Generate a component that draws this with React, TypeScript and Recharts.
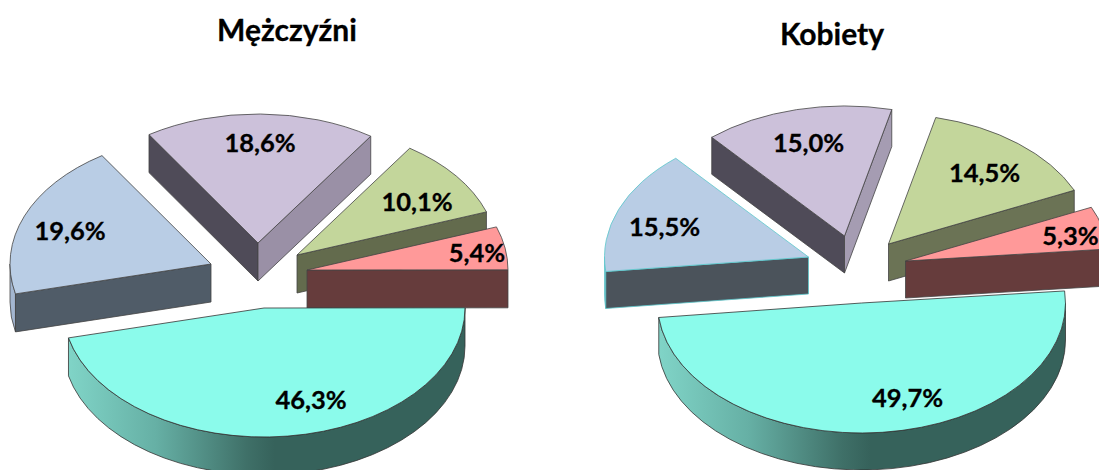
import React from 'react';
import { PieChart, Pie, Cell } from 'recharts';

// Values, clockwise from the blue slice (paint order: back to front)
const categories = ['blue', 'purple', 'green', 'pink', 'turquoise'];
const menValues = [19.6, 18.6, 10.1, 5.4, 46.3];
const womenValues = [15.5, 15.0, 14.5, 5.3, 49.7];
const titles = ['Mężczyźni', 'Kobiety'];

const toRows = (values: number[]) => categories.map((name, i) => ({ name, value: values[i] }));
const menData = toRows(menValues);
const womenData = toRows(womenValues);

// Styling tables
const topColors = ['#b9cde5', '#ccc1da', '#c3d69b', '#ff9999', '#8bfbeb'];
const startWall = ['#505c68', '#4f4b58', '#636b4d', '#663c3c', '#36625b'];
const endWall = ['#505c68', '#9a90a6', '#636b4d', '#663c3c', '#36625b'];
const arcWall = ['#a3b6d0', '#9a90a6', '#636b4d', '#663c3c', 'url(#GRAD)'];

const FONT = 'Lato, Carlito, "Open Sans", sans-serif';
const D2R = Math.PI / 180;

type Geo = {
  id: string;
  ry: number;
  depth: number;
  explode: [number, number][];
  labelAt: [number, number][];
  stroke: string[];
  endWallOverride?: string[];
  startWallOverride?: string[];
};

const menGeo: Geo = {
  id: 'm',
  ry: 129,
  depth: 38,
  explode: [[-53, -44], [-6, -65], [33, -53], [43, -38], [0, 0]],
  labelAt: [[-141, -34], [2, -101], [120, -54], [170, -18], [47, 91]],
  stroke: ['#444', '#444', '#444', '#444', '#333'],
};
const womenGeo: Geo = {
  id: 'w',
  ry: 130,
  depth: 37,
  explode: [[-53, -46], [-17, -67], [27, -59], [44, -42], [0, 0]],
  labelAt: [[-144, -31], [-36, -94], [96, -72], [165, -26], [46, 94]],
  stroke: ['#5cc8cc', '#444', '#444', '#444', '#333'],
  startWallOverride: ['#4b535b', '#4f4b58', '#6b7355', '#663c3c', '#36625b'],
  endWallOverride: ['#4b535b', '#a59cb2', '#6b7355', '#663c3c', '#36625b'],
};

const makeShape = (geo: Geo) => (props: any) => {
  const { cx, cy, outerRadius, startAngle, endAngle, index } = props;
  const idx: number = index ?? categories.indexOf(props.name);
  const rx = outerRadius;
  const ry = geo.ry;
  const d = geo.depth;
  const ax = cx + geo.explode[idx][0];
  const ay = cy + geo.explode[idx][1];
  let t1 = -startAngle;
  let t2 = -endAngle;
  while (t1 < -180) { t1 += 360; t2 += 360; }
  const P = (t: number, dy = 0) => [ax + rx * Math.cos(t * D2R), ay + ry * Math.sin(t * D2R) + dy];
  const p1 = P(t1);
  const p2 = P(t2);
  const large = t2 - t1 > 180 ? 1 : 0;
  const top = `M${ax},${ay}L${p1[0]},${p1[1]}A${rx},${ry} 0 ${large} 1 ${p2[0]},${p2[1]}Z`;
  const a = Math.max(t1, 0);
  const b = Math.min(t2, 180);
  const stroke = geo.stroke[idx];
  const sw = geo.startWallOverride ?? startWall;
  const ew = geo.endWallOverride ?? endWall;
  const gradId = `grad-${geo.id}-${idx}`;
  const arcFill = arcWall[idx].replace('GRAD', gradId);
  const wall = (p: number[], fill: string) => (
    <path
      d={`M${ax},${ay}L${p[0]},${p[1]}L${p[0]},${p[1] + d}L${ax},${ay + d}Z`}
      fill={fill}
      stroke={stroke}
      strokeWidth={0.8}
    />
  );
  let arcPath = null;
  if (b > a) {
    const A = P(a);
    const B = P(b);
    arcPath = (
      <path
        d={`M${A[0]},${A[1]}A${rx},${ry} 0 0 1 ${B[0]},${B[1]}L${B[0]},${B[1] + d}A${rx},${ry} 0 0 0 ${A[0]},${A[1] + d}Z`}
        fill={arcFill}
        stroke={stroke}
        strokeWidth={0.8}
      />
    );
  }
  return (
    <g>
      <defs>
        <linearGradient id={gradId} x1="0" y1="0" x2="1" y2="0">
          <stop offset="0" stopColor="#80d4c7" />
          <stop offset="0.22" stopColor="#66b0a5" />
          <stop offset="0.45" stopColor="#3f7068" />
          <stop offset="0.52" stopColor="#36625b" />
          <stop offset="1" stopColor="#36625b" />
        </linearGradient>
      </defs>
      {arcPath}
      {Math.cos(t1 * D2R) < 0 && wall(p1, sw[idx])}
      {Math.cos(t2 * D2R) > 0 && wall(p2, ew[idx])}
      <path d={top} fill={topColors[idx]} stroke={stroke} strokeWidth={0.8} strokeLinejoin="round" />
    </g>
  );
};

const makeLabel = (geo: Geo) => (props: any) => {
  const { cx, cy, index, value } = props;
  const x = cx + geo.explode[index][0] + geo.labelAt[index][0];
  const y = cy + geo.explode[index][1] + geo.labelAt[index][1];
  return (
    <text
      x={x}
      y={y}
      textAnchor="middle"
      dominantBaseline="central"
      fontFamily={FONT}
      fontWeight={700}
      fontSize={25.5}
      fill="#000"
      stroke="#000"
      strokeWidth={0.3}
    >
      {`${value.toFixed(1).replace('.', ',')}%`}
    </text>
  );
};

const menShape = makeShape(menGeo);
const womenShape = makeShape(womenGeo);

export default function App() {
  return (
    <div style={{ position: 'absolute', left: 0, top: 0, width: 1099, height: 470, overflow: 'hidden', background: '#fff' }}>
      <PieChart width={1099} height={470} margin={{ top: 0, right: 0, bottom: 0, left: 0 }}>
        <text x={287} y={29} textAnchor="middle" dominantBaseline="central" fontFamily={FONT} fontWeight={700} fontSize={30} fill="#000" stroke="#000" strokeWidth={0.3}>
          {titles[0]}
        </text>
        <text x={832} y={33} textAnchor="middle" dominantBaseline="central" fontFamily={FONT} fontWeight={700} fontSize={30} fill="#000" stroke="#000" strokeWidth={0.3}>
          {titles[1]}
        </text>
        <Pie
          data={menData}
          dataKey="value"
          nameKey="name"
          cx={264}
          cy={308}
          innerRadius={0}
          outerRadius={201}
          startAngle={193.4}
          endAngle={-166.6}
          stroke="none"
          isAnimationActive={false}
          shape={menShape}
          label={makeLabel(menGeo)}
          labelLine={false}
        >
          {menData.map((row, i) => <Cell key={row.name} fill={topColors[i]} />)}
        </Pie>
        <Pie
          data={womenData}
          dataKey="value"
          nameKey="name"
          cx={861.5}
          cy={303}
          innerRadius={0}
          outerRadius={204}
          startAngle={186.4}
          endAngle={-173.6}
          stroke="none"
          isAnimationActive={false}
          shape={womenShape}
          label={makeLabel(womenGeo)}
          labelLine={false}
        >
          {womenData.map((row, i) => <Cell key={row.name} fill={topColors[i]} />)}
        </Pie>
      </PieChart>
    </div>
  );
}
